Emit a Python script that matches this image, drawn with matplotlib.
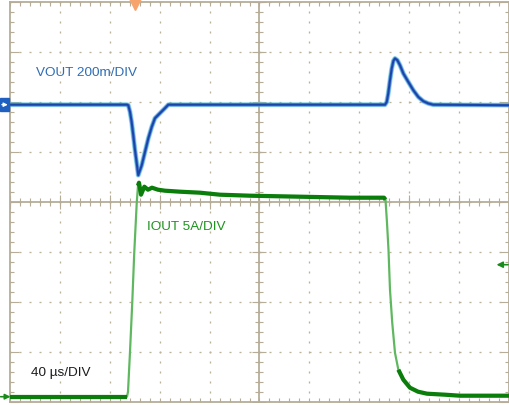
import matplotlib
matplotlib.use("Agg")
import matplotlib.pyplot as plt
import numpy as np

# ---------------- data ----------------
TIME_PER_DIV_US = 40.0
VOUT_MV_PER_DIV = 200.0
IOUT_A_PER_DIV = 5.0
VOUT_OFFSET_DIV = 1.94      # channel marker position (divisions from centre)
IOUT_OFFSET_DIV = -3.90
TRIGGER_TIME_US = 100.2
TRIGGER_LEVEL_A = 13.2

vout_t_us = [0, 93.8, 94.8, 96.2, 97.5, 98.8, 100.2, 101.6, 102.8, 105.6, 108.2,
             110.9, 113.6, 116.2, 120.2, 124.2, 126.9, 300.6, 302.0, 303.2, 304.6,
             306.0, 307.3, 308.6, 310.5, 312.6, 315.3, 319.3, 323.3, 327.3, 331.3,
             335.3, 339.3, 400.0]
vout_dev_mv = [0, 0, -2, -29, -69, -122, -182, -235, -282, -242, -189,
               -134, -89, -54, -34, -14, 0, 0, 11, 45, 98,
               145, 175, 185, 178, 158, 125, 91, 58, 31, 14,
               5, 0, -2]

iout_t_us = [0, 93.8, 94.6, 96.2, 98.0, 99.6, 101.6, 102.6, 103.4, 105.0, 107.7,
             110.6, 113.8, 118.6, 124.2, 136.3, 152.3, 168.3, 192.4, 232.5, 272.5,
             299.8, 301.0, 302.2, 303.4, 304.6, 306.4, 308.6, 311.3, 315.3, 320.6,
             327.1, 334.3, 348.7, 360.7, 400.0]
iout_a = [0, 0, 0.5, 4.5, 9.4, 14.4, 19.4, 21.1, 21.4, 20.2, 21.0,
          20.7, 20.9, 20.7, 20.6, 20.5, 20.4, 20.2, 20.1, 20.0, 19.9,
          19.9, 19.7, 17.4, 14.7, 10.7, 7.4, 4.4, 2.7, 1.7, 0.9,
          0.5, 0.3, 0.2, 0.1, 0.1]

labels = {"vout": "VOUT 200m/DIV", "iout": "IOUT 5A/DIV", "time": "40 \u00b5s/DIV"}

# ---------------- styling ----------------
W, H, DPI = 510, 405, 100
TAN = "#b5ad97"
DOT = "#bbb29a"
PX = 72.0 / DPI  # points per pixel

plt.rcParams["font.family"] = ["Liberation Sans", "DejaVu Sans"]
fig = plt.figure(figsize=(W / DPI, H / DPI), dpi=DPI, facecolor="white")
ax = fig.add_axes([10 / W, 3.3 / H, 499 / W, 400 / H])
ax.set_facecolor("white")

XMAX = 10 * TIME_PER_DIV_US
ax.set_xlim(0, XMAX)
ax.set_ylim(-4, 4)

# borders & ticks
for s in ax.spines.values():
    s.set_color(TAN)
    s.set_linewidth(1.8 * PX)
ax.set_xticks(np.arange(0, XMAX + 1, TIME_PER_DIV_US))
ax.set_xticks(np.arange(0, XMAX + 1, TIME_PER_DIV_US / 5), minor=True)
ax.set_yticks(np.arange(-4, 5, 1))
ax.set_yticks(np.arange(-4, 4.01, 0.2), minor=True)
ax.tick_params(which="both", direction="in", top=True, right=True, bottom=True, left=True,
               color=TAN, width=1.1 * PX, labelbottom=False, labelleft=False)
ax.tick_params(axis="x", which="both", length=4 * PX)
ax.tick_params(axis="y", which="major", length=9 * PX)
ax.tick_params(axis="y", which="minor", length=4 * PX)

# dotted major grid: 2 px dash every 10 px, centred on each 0.2 div position
GLW = 1.3 * PX
dash = (1.0 * PX / GLW, (2.0 * PX / GLW, 8.0 * PX / GLW))
ax.grid(True, which="major", color=DOT, lw=GLW, linestyle=dash, zorder=0)
ax.set_axisbelow(True)

# centre cross with ticks
ax.axhline(0, color=TAN, lw=1.8 * PX, zorder=1)
ax.axvline(XMAX / 2, color=TAN, lw=1.8 * PX, zorder=1)
xminor = np.arange(0, XMAX + 0.1, TIME_PER_DIV_US / 5)
xmajor = np.arange(0, XMAX + 0.1, TIME_PER_DIV_US)
ax.plot(xminor, np.zeros_like(xminor), ls="", marker="|", ms=8 * PX, mew=1.1 * PX, color=TAN, zorder=1)
ax.plot(xmajor, np.zeros_like(xmajor), ls="", marker="|", ms=14 * PX, mew=1.1 * PX, color=TAN, zorder=1)
yminor = np.arange(-4, 4.01, 0.2)
ymajor = np.arange(-4, 4.01, 1)
ax.plot(np.full_like(yminor, XMAX / 2), yminor, ls="", marker="_", ms=8 * PX, mew=1.1 * PX, color=TAN, zorder=1)
ax.plot(np.full_like(ymajor, XMAX / 2), ymajor, ls="", marker="_", ms=14 * PX, mew=1.1 * PX, color=TAN, zorder=1)

# ---------------- traces ----------------
vt = np.array(vout_t_us)
vy = np.array(vout_dev_mv) / VOUT_MV_PER_DIV + VOUT_OFFSET_DIV
ax.plot(vt, vy, color="#45c6dc", lw=5.0 * PX, alpha=0.5, zorder=3, solid_capstyle="butt")
ax.plot(vt, vy, color="#5a8fd8", lw=3.6 * PX, zorder=4, solid_capstyle="butt")
ax.plot(vt, vy, color="#1a45a8", lw=2.0 * PX, zorder=5, solid_capstyle="butt")

it = np.array(iout_t_us)
iy = np.array(iout_a) / IOUT_A_PER_DIV + IOUT_OFFSET_DIV
ax.plot(it, iy, color="#5fb85f", lw=2.2 * PX, zorder=4, solid_capstyle="butt")
flat = [(0, 94.2), (102.4, 301.2), (311, XMAX)]
for a, b in flat:
    m = (it >= a) & (it <= b)
    ax.plot(it[m], iy[m], color="#0b7d0b", lw=4.2 * PX, zorder=5, solid_capstyle="butt")

# ---------------- markers ----------------
def arrow(x0, x1, y, color, lw, scale, z=7):
    ax.annotate("", xy=(x1, y), xytext=(x0, y),
                arrowprops=dict(arrowstyle="-|>", color=color, lw=lw,
                                mutation_scale=scale, shrinkA=0, shrinkB=0),
                annotation_clip=False, zorder=z)

# VOUT channel marker (blue box at left)
box_h = 0.13
ax.add_patch(plt.Rectangle((-8.2, VOUT_OFFSET_DIV - box_h), 7.6, 2 * box_h,
                           color="#1f5fc0", clip_on=False, zorder=6))
arrow(-6.6, -1.8, VOUT_OFFSET_DIV, "white", 1.2 * PX, 6)
# IOUT channel marker
arrow(-7.6, 0.4, IOUT_OFFSET_DIV, "#1a8a1a", 1.6 * PX, 8)
# trigger level (right)
trig_y = TRIGGER_LEVEL_A / IOUT_A_PER_DIV + IOUT_OFFSET_DIV
arrow(399.3, 390.0, trig_y, "#1a8a1a", 1.6 * PX, 9)
# trigger position (top)
ax.plot([TRIGGER_TIME_US], [3.95], marker="v", ms=12 * PX, color="#f7a46c",
        mec="#f7a46c", clip_on=False, zorder=7)

# ---------------- labels ----------------
fs = 9.7
ax.text(20.8, 2.514, labels["vout"], color="#2e6db5", fontsize=fs, va="baseline", ha="left")
ax.text(109.8, -0.566, labels["iout"], color="#1e931e", fontsize=fs, va="baseline", ha="left")
ax.text(16.6, -3.486, labels["time"], color="#1c1c1c", fontsize=fs, va="baseline", ha="left")

fig.savefig("out.png", dpi=DPI, facecolor="white")
